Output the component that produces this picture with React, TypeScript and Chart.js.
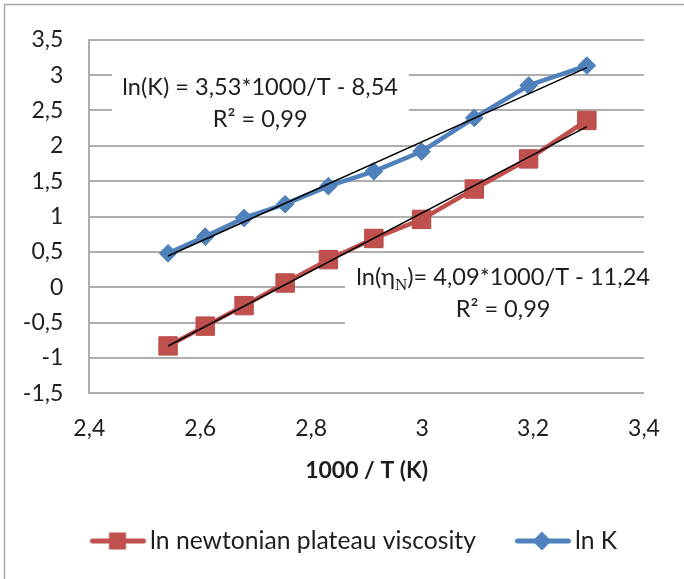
import React, { useEffect, useRef } from "react";
import { Chart, registerables } from "chart.js";

Chart.register(...registerables);

// ---- data ----
const invTemperature = [2.542, 2.609, 2.679, 2.753, 2.831, 2.913, 2.999, 3.094, 3.192, 3.297];
const lnViscosity = [-0.83, -0.55, -0.26, 0.06, 0.39, 0.69, 0.96, 1.39, 1.815, 2.36];
const lnK = [0.48, 0.716, 0.98, 1.175, 1.43, 1.64, 1.92, 2.395, 2.854, 3.136];
const seriesNames = ["ln newtonian plateau viscosity", "ln K"];
const xAxisTitle = "1000 / T (K)";
const xLimits = [2.4, 3.4];
const xStep = 0.2;
const yLimits = [-1.5, 3.5];
const yStep = 0.5;
const eqKLines = ["ln(K) = 3,53*1000/T - 8,54", "R² = 0,99"];
const eqEtaParts = ["ln(η", "N", ")= 4,09*1000/T - 11,24"];
const eqEtaR2 = "R² = 0,99";

const RED = "#c0504d";
const BLUE = "#4f81bd";
const FONT = "Lato, 'DejaVu Sans', sans-serif";
const TEXT = "#1e1e1e";
const GRID = "#aeaeae";
const LEGEND_SIZE = 24.7;

function fmt(v: number) {
  return String(Math.round(v * 10) / 10).replace(".", ",");
}

function trend(xs: number[], ys: number[]) {
  const n = xs.length;
  const mx = xs.reduce((a, b) => a + b, 0) / n;
  const my = ys.reduce((a, b) => a + b, 0) / n;
  let sxy = 0, sxx = 0;
  for (let i = 0; i < n; i++) {
    sxy += (xs[i] - mx) * (ys[i] - my);
    sxx += (xs[i] - mx) ** 2;
  }
  const b = sxy / sxx;
  const a = my - b * mx;
  const x0 = Math.min(...xs), x1 = Math.max(...xs);
  return [{ x: x0, y: a + b * x0 }, { x: x1, y: a + b * x1 }];
}

// marker image: line of length 56 starting at `start` (image coords)
function legendMarker(color: string, shape: "rect" | "diamond", imgW: number, start: number) {
  const c = document.createElement("canvas");
  c.width = imgW;
  c.height = 24;
  const g = c.getContext("2d")!;
  g.strokeStyle = color;
  g.lineWidth = 5;
  g.lineCap = "round";
  g.beginPath();
  g.moveTo(start + 2.5, 12);
  g.lineTo(start + 53.5, 12);
  g.stroke();
  g.fillStyle = color;
  if (shape === "rect") {
    g.fillRect(start + 27.5 - 8.5, 12 - 8.5, 17, 17);
  } else {
    const cx = start + 27, h = 9.5;
    g.beginPath();
    g.moveTo(cx - h, 12);
    g.lineTo(cx, 12 - h);
    g.lineTo(cx + h, 12);
    g.lineTo(cx, 12 + h);
    g.closePath();
    g.fill();
  }
  return c;
}

const notesPlugin = {
  id: "notes",
  beforeDraw(chart: any) {
    const { ctx, width, height } = chart;
    ctx.save();
    ctx.fillStyle = "#ffffff";
    ctx.fillRect(0, 0, width, height);
    ctx.strokeStyle = "#a8a8a8";
    ctx.lineWidth = 1.5;
    ctx.beginPath();
    ctx.moveTo(4.5, height + 5);
    ctx.lineTo(4.5, 4.5);
    ctx.lineTo(width + 5, 4.5);
    ctx.stroke();
    ctx.restore();
  },
  beforeDatasetsDraw(chart: any) {
    const { ctx } = chart;
    const xs = chart.scales.x, ys = chart.scales.y;
    const px = (v: number) => xs.getPixelForValue(v);
    const py = (v: number) => ys.getPixelForValue(v);
    ctx.save();
    ctx.fillStyle = "#ffffff";
    ctx.fillRect(px(2.441), py(3.22), px(2.976) - px(2.441), py(2.25) - py(3.22));
    ctx.fillRect(px(2.861), py(0.25), px(3.4) + 2 - px(2.861), py(-0.75) - py(0.25));

    const big = `23.6px ${FONT}`;
    const sub = "17px 'Liberation Serif', 'DejaVu Serif', serif";
    ctx.fillStyle = TEXT;
    ctx.textBaseline = "alphabetic";
    ctx.font = big;
    ctx.textAlign = "center";
    ctx.fillText(eqKLines[0], px(2.708), py(2.72));
    ctx.fillText(eqKLines[1], px(2.708), py(2.27));

    ctx.textAlign = "left";
    const w1 = ctx.measureText(eqEtaParts[0]).width;
    const w3 = ctx.measureText(eqEtaParts[2]).width;
    ctx.font = sub;
    const w2 = ctx.measureText(eqEtaParts[1]).width;
    const by = py(0.03);
    let sx = px(3.146) - (w1 + w2 + w3) / 2;
    ctx.font = big;
    ctx.fillText(eqEtaParts[0], sx, by);
    sx += w1;
    ctx.font = sub;
    ctx.fillText(eqEtaParts[1], sx, by + 5);
    sx += w2;
    ctx.font = big;
    ctx.fillText(eqEtaParts[2], sx, by);
    ctx.textAlign = "center";
    ctx.fillText(eqEtaR2, px(3.146), py(-0.42));
    ctx.restore();
  },
};

export default function App() {
  const ref = useRef<HTMLCanvasElement>(null);

  useEffect(() => {
    if (!ref.current) return;

    // legend geometry: first marker starts at 90px, text 60px after marker start,
    // 39px gap between end of first text and second marker
    const mctx = document.createElement("canvas").getContext("2d")!;
    mctx.font = `${LEGEND_SIZE}px ${FONT}`;
    const T = seriesNames.reduce((s, n) => s + mctx.measureText(n).width, 0);
    const L = 0, R = 684, G = 39, M = 90, lead = 60;
    const rowW = 2 * lead + T + 2 * G;
    const d = 2 * M - L - R - G + rowW;
    const pad = G - d;
    const hf = LEGEND_SIZE / 2;
    const W = lead + d - hf;
    const c = W / 2;
    const half = Math.ceil(Math.max(Math.abs(d - c), Math.abs(d + 56 - c))) + 4;
    const imgW = 2 * half;
    const start = half + (d - c);
    const markers = [
      legendMarker(RED, "rect", imgW, start),
      legendMarker(BLUE, "diamond", imgW, start),
    ];

    const etaPts = invTemperature.map((x, i) => ({ x, y: lnViscosity[i] }));
    const kPts = invTemperature.map((x, i) => ({ x, y: lnK[i] }));

    const legendTop = 541 - pad - hf;
    const legendH = LEGEND_SIZE + pad + 10;
    const padBottom = 579 - legendTop - legendH;

    const chart = new Chart(ref.current, {
      type: "scatter",
      data: {
        datasets: [
          {
            label: seriesNames[0],
            data: etaPts,
            showLine: true,
            borderColor: RED,
            backgroundColor: RED,
            borderWidth: 4.5,
            borderCapStyle: "round",
            borderJoinStyle: "round",
            pointStyle: "rect",
            pointRadius: 13,
            pointBorderWidth: 1,
            pointBorderColor: "#b94845",
            order: 1,
          },
          {
            label: seriesNames[1],
            data: kPts,
            showLine: true,
            borderColor: BLUE,
            backgroundColor: BLUE,
            borderWidth: 4.5,
            borderCapStyle: "round",
            borderJoinStyle: "round",
            pointStyle: "rectRot",
            pointRadius: 8.8,
            pointBorderWidth: 1,
            pointBorderColor: "#4a7bb5",
            order: 2,
          },
          {
            label: "trend eta",
            data: trend(invTemperature, lnViscosity),
            showLine: true,
            borderColor: "#000000",
            borderWidth: 1.5,
            pointRadius: 0,
            order: 0,
          },
          {
            label: "trend K",
            data: trend(invTemperature, lnK),
            showLine: true,
            borderColor: "#000000",
            borderWidth: 1.5,
            pointRadius: 0,
            order: 0,
          },
        ],
      },
      options: {
        animation: false,
        responsive: true,
        maintainAspectRatio: false,
        devicePixelRatio: 1,
        layout: { padding: { left: 0, right: 0, top: 34, bottom: padBottom } },
        plugins: {
          tooltip: { enabled: false },
          legend: {
            position: "bottom",
            align: "center",
            labels: {
              usePointStyle: true,
              pointStyleWidth: W,
              padding: pad,
              color: TEXT,
              font: { family: FONT, size: LEGEND_SIZE },
              generateLabels: () =>
                seriesNames.map((name, i) => ({
                  text: name,
                  pointStyle: markers[i] as any,
                  datasetIndex: i,
                  hidden: false,
                  lineWidth: 0,
                  fontColor: TEXT,
                  fillStyle: "transparent",
                  strokeStyle: "transparent",
                })),
            },
          },
        },
        scales: {
          x: {
            type: "linear",
            min: xLimits[0],
            max: xLimits[1],
            afterFit: (s: any) => {
              s.height = legendTop - 393.3;
            },
            ticks: {
              stepSize: xStep,
              padding: 21,
              color: TEXT,
              font: { family: FONT, size: 23 },
              callback: (v: any) => fmt(Number(v)),
              maxRotation: 0,
            },
            grid: { display: false, drawTicks: false },
            border: { display: false },
            title: {
              display: true,
              text: xAxisTitle,
              color: TEXT,
              font: { family: FONT, size: 23, weight: "bold" },
              padding: { top: 0, bottom: legendTop - 471 - 13.8 },
            },
          },
          y: {
            type: "linear",
            min: yLimits[0],
            max: yLimits[1],
            afterFit: (s: any) => {
              s.width = 89.3;
            },
            ticks: {
              stepSize: yStep,
              padding: 26,
              color: TEXT,
              font: { family: FONT, size: 23 },
              callback: (v: any) => fmt(Number(v)),
            },
            grid: { color: GRID, lineWidth: 2, drawTicks: false },
            border: { display: true, color: GRID, width: 2 },
          },
          yRight: {
            type: "linear",
            position: "right",
            display: true,
            afterFit: (s: any) => {
              s.width = 40;
            },
            ticks: { display: false },
            grid: { display: false, drawTicks: false },
            border: { display: false },
          },
        },
      },
      plugins: [notesPlugin],
    } as any);
    return () => chart.destroy();
  }, []);

  return (
    <div style={{ position: "absolute", left: 0, top: 0, width: 684, height: 579 }}>
      <canvas ref={ref} />
    </div>
  );
}
